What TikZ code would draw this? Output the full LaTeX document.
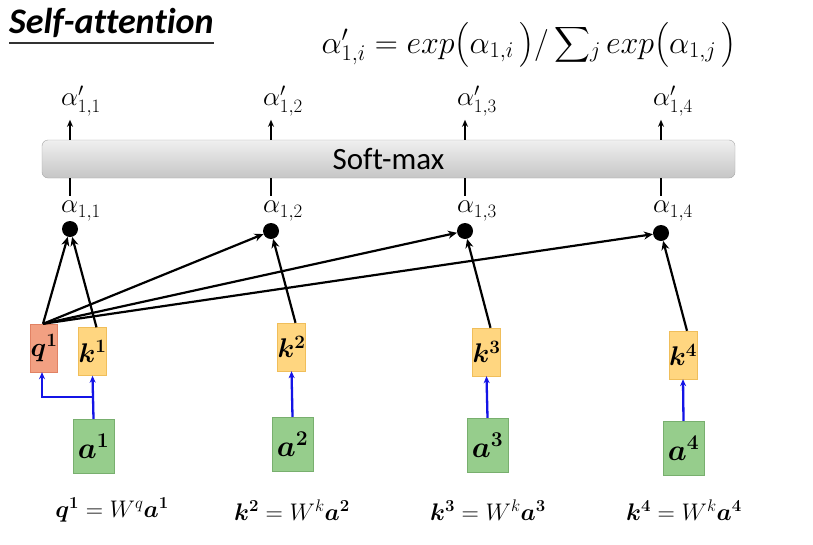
\RequirePackage{fix-cm}
\documentclass[tikz,border=0pt]{standalone}
\usepackage{fontspec}
\setmainfont{Carlito}[Ligatures=NoCommon]
\usepackage{amsmath}
\usepackage{bm}
\usetikzlibrary{arrows.meta,calc}
\definecolor{qfill}{RGB}{242,160,130}
\definecolor{qdraw}{RGB}{225,130,100}
\definecolor{kfill}{RGB}{255,214,128}
\definecolor{kdraw}{RGB}{240,190,90}
\definecolor{afill}{RGB}{150,205,140}
\definecolor{adraw}{RGB}{120,175,110}
\definecolor{bluel}{RGB}{20,20,230}
\begin{document}
\begin{tikzpicture}[x=1pt,y=-1pt,
  arr/.style={black,line width=2.2pt,-{Stealth[length=9pt,width=8pt]}},
  barline/.style={black,line width=2.2pt},
  bluearr/.style={bluel,line width=2.3pt,-{Stealth[length=7pt,width=6pt]}},
  dotn/.style={circle,fill=black,minimum size=16pt,inner sep=0pt},
  qbox/.style={draw=qdraw,fill=qfill,minimum width=26pt,minimum height=48pt,inner sep=0pt,font=\fontsize{27}{29}\selectfont},
  kbox/.style={draw=kdraw,fill=kfill,minimum width=25pt,minimum height=48pt,inner sep=0pt,font=\fontsize{27}{29}\selectfont},
  abox/.style={draw=adraw,fill=afill,minimum width=41pt,minimum height=54pt,inner sep=0pt,font=\fontsize{30}{32}\selectfont},
  albl/.style={font=\fontsize{27}{29}\selectfont,inner sep=0pt},
  eqn/.style={font=\fontsize{24}{26}\selectfont,inner sep=0pt}]
\useasboundingbox (0,0) rectangle (813,544);
\fill[white] (0,0) rectangle (813,544);

% title
\node[anchor=west,inner sep=0pt,font=\fontsize{36}{38}\selectfont\bfseries\itshape] (title) at (9,23) {Self-attention};
\draw[line width=1.6pt,black!80] (title.west |- 0,43) -- (title.east |- 0,43);

% formula
\node[inner sep=0pt,anchor=base,font=\fontsize{32}{34}\selectfont] (form) at (529,53)
  {$\alpha'_{1,i} = exp\bigl(\alpha_{1,i}\,\bigr)/\mathop{\smash{\displaystyle\sum}}\nolimits_j exp\bigl(\alpha_{1,j}\,\bigr)$};

% soft-max bar
\node[draw=gray!70,rounded corners=6pt,top color=gray!12,bottom color=gray!45,minimum width=693pt,minimum height=38pt,inner sep=0pt,font=\fontsize{31}{33}\selectfont] (sm) at (388.5,159) {Soft-max};

% dots
\node[dotn] (d1) at (70,229) {};
\node[dotn] (d2) at (271,231) {};
\node[dotn] (d3) at (465,231) {};
\node[dotn] (d4) at (661,233) {};

% alpha labels
\node[albl] (al1) at (81,211) {$\alpha_{1,1}$};
\node[albl] (al2) at (283,211) {$\alpha_{1,2}$};
\node[albl] (al3) at (477,211) {$\alpha_{1,3}$};
\node[albl] (al4) at (673,211) {$\alpha_{1,4}$};

\node[albl] (ap1) at (81,101) {$\alpha'_{1,1}$};
\node[albl] (ap2) at (283,101) {$\alpha'_{1,2}$};
\node[albl] (ap3) at (477,101) {$\alpha'_{1,3}$};
\node[albl] (ap4) at (673,101) {$\alpha'_{1,4}$};

% bar connections
\foreach \i in {1,2,3,4}{
  \draw[arr,-{Stealth[length=7pt,width=6pt]}] (sm.north -| d\i) -- ++(0,-20);
  \draw[barline] (sm.south -| d\i) -- ++(0,18);
}

% q,k boxes
\node[qbox] (q1) at (44,348) {$\bm{q^1}$};
\node[kbox] (k1) at (92.5,351.5) {$\bm{k^1}$};
\node[kbox] (k2) at (291.5,347) {$\bm{k^2}$};
\node[kbox] (k3) at (486.5,352) {$\bm{k^3}$};
\node[kbox] (k4) at (683,355) {$\bm{k^4}$};

% a boxes
\node[abox] (a1) at (93.5,446) {$\bm{a^1}$};
\node[abox] (a2) at (292.5,444) {$\bm{a^2}$};
\node[abox] (a3) at (487.5,445) {$\bm{a^3}$};
\node[abox] (a4) at (683.5,448) {$\bm{a^4}$};

% blue arrows
\draw[bluearr] (a1.north) -- (k1.south);
\coordinate (br) at ($(a1.north)+(0,-22)$);
\draw[bluearr] (br) -| ([xshift=-2pt]q1.south);
\draw[bluearr] (a2.north) -- (k2.south);
\draw[bluearr] (a3.north) -- (k3.south);
\draw[bluearr] (a4.north) -- (k4.south);

% black arrows
\foreach \i in {1,2,3,4}{
  \draw[arr] ([xshift=-1pt]q1.north) -- (d\i);
  \draw[arr] ([xshift=4pt]k\i.north) -- (d\i);
}

% bottom equations
\node[eqn] (e1) at (112,510) {$\bm{q^1} = W^q\bm{a^1}$};
\node[eqn] (e2) at (292,510) {$\bm{k^2} = W^k\bm{a^2}$};
\node[eqn] (e3) at (488,510) {$\bm{k^3} = W^k\bm{a^3}$};
\node[eqn] (e4) at (684,510) {$\bm{k^4} = W^k\bm{a^4}$};
\end{tikzpicture}
\end{document}
